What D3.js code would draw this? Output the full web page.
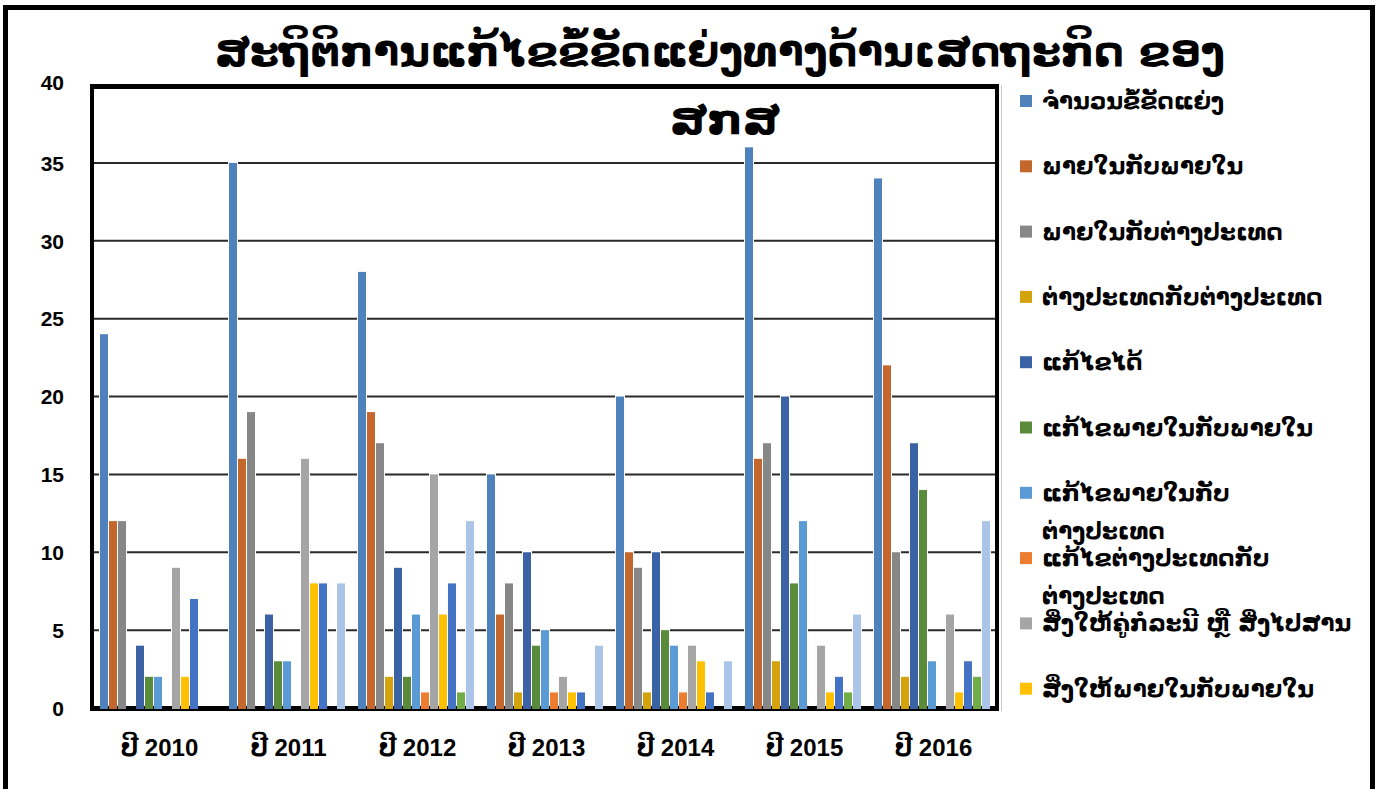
<!DOCTYPE html>
<html>
<head>
<meta charset="utf-8">
<script src="https://cdn.jsdelivr.net/npm/d3@7"></script>
<style>
  html, body { margin: 0; padding: 0; background: #fff; }
  svg { display: block; }
  .lao { font-family: 'DejaVu Sans', 'Noto Sans', sans-serif; font-weight: bold; }
  .num { font-family: 'Liberation Sans', 'DejaVu Sans', sans-serif; font-weight: bold; }
</style>
</head>
<body>
<svg id="chart" width="1384" height="789"></svg>
<script>
// ---- Data ----
const years = ["ປີ 2010", "ປີ 2011", "ປີ 2012", "ປີ 2013", "ປີ 2014", "ປີ 2015", "ປີ 2016"];
const seriesNames = [
  "ຈຳນວນຂໍ້ຂັດແຍ່ງ",
  "ພາຍໃນກັບພາຍໃນ",
  "ພາຍໃນກັບຕ່າງປະເທດ",
  "ຕ່າງປະເທດກັບຕ່າງປະເທດ",
  "ແກ້ໄຂໄດ້",
  "ແກ້ໄຂພາຍໃນກັບພາຍໃນ",
  "ແກ້ໄຂພາຍໃນກັບ|ຕ່າງປະເທດ",
  "ແກ້ໄຂຕ່າງປະເທດກັບ|ຕ່າງປະເທດ",
  "ສິ່ງໃຫ້ຄູ່ກໍລະນີ ຫຼື ສິ່ງໄປສານ",
  "ສິ່ງໃຫ້ພາຍໃນກັບພາຍໃນ",
  "ສິ່ງໃຫ້ພາຍໃນກັບຕ່າງປະເທດ",
  "ສິ່ງໃຫ້ຕ່າງປະເທດກັບຕ່າງປະເທດ",
  "ກຳລັງແກ້ໄຂ"
];
const conflicts  = [24, 35, 28, 15, 20, 36, 34];
const domDom     = [12, 16, 19,  6, 10, 16, 22];
const domFor     = [12, 19, 17,  8,  9, 17, 10];
const forFor     = [ 0,  0,  2,  1,  1,  3,  2];
const resolved   = [ 4,  6,  9, 10, 10, 20, 17];
const resDomDom  = [ 2,  3,  2,  4,  5,  8, 14];
const resDomFor  = [ 2,  3,  6,  5,  4, 12,  3];
const resForFor  = [ 0,  0,  1,  1,  1,  0,  0];
const referred   = [ 9, 16, 15,  2,  4,  4,  6];
const refDomDom  = [ 2,  8,  6,  1,  3,  1,  1];
const refDomFor  = [ 7,  8,  8,  1,  1,  2,  3];
const refForFor  = [ 0,  0,  1,  0,  0,  1,  2];
const pending    = [ 0,  8, 12,  4,  3,  6, 12];
const seriesValues = [conflicts, domDom, domFor, forFor, resolved, resDomDom, resDomFor,
                      resForFor, referred, refDomDom, refDomFor, refForFor, pending];
const colors = ["#4f81bd", "#c4672d", "#878787", "#d4a20a", "#3a62a5", "#5a8b3b", "#5b9bd5",
                "#ed7d31", "#a5a5a5", "#ffc000", "#4472c4", "#70ad47", "#abc5e8"];
const yTicks = [0, 5, 10, 15, 20, 25, 30, 35, 40];
const titleLine1 = "ສະຖິຕິການແກ້ໄຂຂໍ້ຂັດແຍ່ງທາງດ້ານເສດຖະກິດ ຂອງ";
const titleLine2 = "ສກສ";
const legendShown = 10;

// ---- Layout ----
const svg = d3.select("#chart");
const plot = { left: 93, right: 996, top: 85, bottom: 708 };

const x0 = d3.scaleBand().domain(years).range([plot.left, plot.right]).padding(0);
const bw = x0.bandwidth();
const x1 = d3.scaleBand().domain(d3.range(seriesNames.length)).range([7, bw - 5]).padding(0);
const y = d3.scaleLinear().domain([0, 40]).range([plot.bottom, plot.top]);

// outer frame
svg.append("rect").attr("x", 5.5).attr("y", 7.5).attr("width", 1367).attr("height", 830)
  .attr("fill", "#fff").attr("stroke", "#000").attr("stroke-width", 5);

// gridlines
const gridG = svg.append("g");
gridG.selectAll("line").data(yTicks.filter(t => t > 0 && t < 40)).join("line")
  .attr("x1", plot.left).attr("x2", plot.right)
  .attr("y1", d => y(d)).attr("y2", d => y(d))
  .attr("stroke", "#2a2a2a").attr("stroke-width", 2);

// thick baseline (shows where bars are absent)
svg.append("rect").attr("x", plot.left - 3).attr("width", plot.right - plot.left + 6)
  .attr("y", y(0) - 2).attr("height", 5).attr("fill", "#000");

// bars
const flat = [];
years.forEach((yr, gi) => {
  seriesValues.forEach((arr, si) => {
    if (arr[gi] > 0) flat.push({ yr, si, v: arr[gi] });
  });
});
const barsG = svg.append("g");
barsG.selectAll("rect.halo").data(flat).join("rect").attr("class", "halo")
  .attr("x", d => x0(d.yr) + x1(d.si) - 1)
  .attr("width", x1.bandwidth() + 1)
  .attr("y", d => y(d.v) - 1.5)
  .attr("height", d => y(0) - 2 - y(d.v) + 1.5)
  .attr("fill", "#fff");
barsG.selectAll("rect.bar").data(flat).join("rect").attr("class", "bar")
  .attr("x", d => x0(d.yr) + x1(d.si))
  .attr("width", x1.bandwidth() - 1)
  .attr("y", d => y(d.v))
  .attr("height", d => y(0) + 1 - y(d.v))
  .attr("fill", d => colors[d.si]);

// plot frame: top, right, left axis
svg.append("rect").attr("x", plot.left - 3).attr("y", plot.top - 1).attr("width", plot.right - plot.left + 6).attr("height", 5).attr("fill", "#000");
svg.append("rect").attr("x", plot.right - 1).attr("y", plot.top - 1).attr("width", 4).attr("height", y(0) - plot.top + 4).attr("fill", "#000");
svg.append("rect").attr("x", plot.left - 3).attr("y", plot.top - 1).attr("width", 4).attr("height", y(0) - plot.top + 4).attr("fill", "#000");
svg.append("line").attr("x1", 1001.5).attr("x2", 1001.5).attr("y1", plot.top).attr("y2", y(0) + 3)
  .attr("stroke", "#c8c8c8").attr("stroke-width", 1);

// y axis labels
const yAxis = d3.axisLeft(y).tickValues(yTicks).tickSize(0).tickPadding(0);
const yg = svg.append("g").attr("transform", `translate(64,0)`).call(yAxis);
yg.select(".domain").remove();
yg.selectAll("text").attr("font-size", 21).attr("fill", "#000")
  .attr("dy", "0.35em").style("font-family", "'Liberation Sans', sans-serif").style("font-weight", "bold");
yg.select(".tick:last-of-type text").attr("dy", "0.2em");

// x axis labels
const xAxis = d3.axisBottom(x0).tickSize(0).tickPadding(0);
const xg = svg.append("g").attr("transform", `translate(2,739)`).call(xAxis);
xg.select(".domain").remove();
xg.selectAll("text").attr("font-size", 24).attr("fill", "#000").attr("dy", "0.71em")
  .style("font-family", "'Liberation Sans', 'DejaVu Sans', sans-serif").style("font-weight", "bold");

// title
svg.append("text").attr("class", "lao").attr("x", 720).attr("y", 66)
  .attr("text-anchor", "middle").attr("font-size", 42)
  .attr("textLength", 1010).attr("lengthAdjust", "spacingAndGlyphs")
  .text(titleLine1);
svg.append("text").attr("class", "lao").attr("x", 725).attr("y", 134)
  .attr("text-anchor", "middle").attr("font-size", 42)
  .attr("textLength", 110).attr("lengthAdjust", "spacingAndGlyphs")
  .text(titleLine2);

// legend
const legG = svg.append("g");
const legItems = seriesNames.slice(0, legendShown).map((n, i) => ({ lines: n.split("|"), i }));
const lg = legG.selectAll("g").data(legItems).join("g")
  .attr("transform", d => `translate(1020, ${101 + d.i * 65.3})`);
lg.append("rect").attr("x", 0).attr("y", -6).attr("width", 12).attr("height", 12)
  .attr("fill", d => colors[d.i]);
lg.each(function(d) {
  const g = d3.select(this);
  d.lines.forEach((ln, k) => {
    g.append("text").attr("class", "lao").attr("x", 22).attr("y", k * 38)
      .attr("dy", "0.35em").attr("font-size", 23).attr("fill", "#000").text(ln);
  });
});
</script>
</body>
</html>
